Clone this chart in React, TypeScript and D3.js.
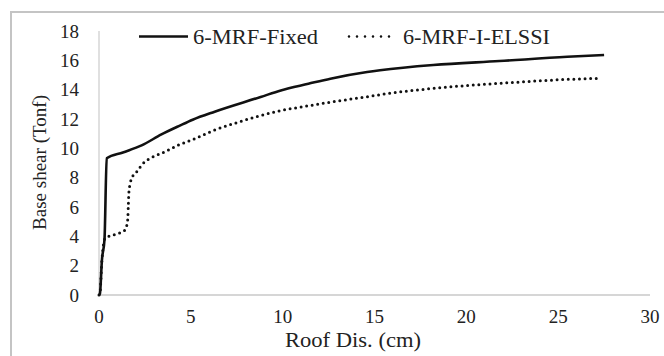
import React, { useEffect, useRef } from "react";
import * as d3 from "d3";

// Roof displacement (cm) vs base shear (Tonf)
const fixedX = [0, 0.05, 0.16, 0.3, 0.42, 1.3, 2.32, 3.4, 4.4, 5.1, 6.3, 8.8, 9.9, 11.4, 12.6, 14.6, 15.3, 18.2, 21.8, 25.5, 27.5];
const fixedY = [0, 0.1, 2.4, 3.8, 9.32, 9.72, 10.2, 10.95, 11.55, 11.95, 12.5, 13.5, 13.95, 14.4, 14.75, 15.2, 15.32, 15.68, 15.95, 16.24, 16.36];

const ssiX = [0, 0.05, 0.16, 0.33, 0.8, 1.42, 1.56, 1.6, 1.63, 1.78, 2.05, 2.41, 2.96, 3.6, 4.32, 5.13, 6.2, 7.5, 9.8, 11.4, 12.6, 14.6, 15.3, 18.2, 21.8, 25.5, 27.15];
const ssiY = [0, 0.1, 2.4, 3.86, 4.1, 4.43, 5.1, 6.2, 7.04, 7.95, 8.4, 8.98, 9.43, 9.77, 10.22, 10.61, 11.2, 11.75, 12.55, 12.9, 13.15, 13.52, 13.66, 14.09, 14.43, 14.7, 14.77];

const xTicks = [0, 5, 10, 15, 20, 25, 30];
const yTicks = [0, 2, 4, 6, 8, 10, 12, 14, 16, 18];
const seriesNames = ["6-MRF-Fixed", "6-MRF-I-ELSSI"];

const W = 664;
const H = 356;
const font = "'Liberation Serif', Tinos, 'Times New Roman', Times, 'DejaVu Serif', serif";

export default function App() {
  const svgRef = useRef<SVGSVGElement>(null);

  useEffect(() => {
    const svg = d3.select(svgRef.current);
    svg.selectAll("*").remove();

    const x = d3.scaleLinear().domain([0, 30]).range([99, 650]);
    const y = d3.scaleLinear().domain([0, 18]).range([295, 31]);

    // outer frame
    svg
      .append("rect")
      .attr("x", 11)
      .attr("y", 12)
      .attr("width", W + 20)
      .attr("height", H + 20)
      .attr("fill", "none")
      .attr("stroke", "#c4c4c4")
      .attr("stroke-width", 2);

    // axes lines (no ticks)
    svg
      .append("line")
      .attr("x1", x(0))
      .attr("x2", x(30))
      .attr("y1", y(0))
      .attr("y2", y(0))
      .attr("stroke", "#d6d6d6")
      .attr("stroke-width", 2);
    svg
      .append("line")
      .attr("x1", x(0))
      .attr("x2", x(0))
      .attr("y1", y(0))
      .attr("y2", y(18))
      .attr("stroke", "#d6d6d6")
      .attr("stroke-width", 1.5);

    const txt = (sel: any) =>
      sel.style("font-family", font).attr("fill", "#222");

    // tick labels
    svg
      .append("g")
      .selectAll("text")
      .data(xTicks)
      .join("text")
      .attr("x", (d) => x(d))
      .attr("y", 323)
      .attr("text-anchor", "middle")
      .attr("font-size", 19)
      .call(txt)
      .text((d) => d);

    svg
      .append("g")
      .selectAll("text")
      .data(yTicks)
      .join("text")
      .attr("x", 79)
      .attr("y", (d) => y(d) + 6.5)
      .attr("text-anchor", "end")
      .attr("font-size", 19)
      .call(txt)
      .text((d) => d);

    // axis titles
    svg
      .append("text")
      .attr("x", 353)
      .attr("y", 347)
      .attr("text-anchor", "middle")
      .attr("font-size", 20)
      .attr("textLength", 136)
      .attr("lengthAdjust", "spacingAndGlyphs")
      .call(txt)
      .text("Roof Dis. (cm)");

    svg
      .append("text")
      .attr("transform", "translate(45.5,162.5) rotate(-90)")
      .attr("text-anchor", "middle")
      .attr("font-size", 19)
      .attr("textLength", 135)
      .attr("lengthAdjust", "spacingAndGlyphs")
      .call(txt)
      .text("Base shear (Tonf)");

    // curves
    const line = d3
      .line<[number, number]>()
      .x((d) => x(d[0]))
      .y((d) => y(d[1]))
      .curve(d3.curveMonotoneX);

    const fixedData = fixedX.map((v, i) => [v, fixedY[i]] as [number, number]);
    const ssiData = ssiX.map((v, i) => [v, ssiY[i]] as [number, number]);

    svg
      .append("path")
      .attr("d", line(ssiData))
      .attr("fill", "none")
      .attr("stroke", "#111")
      .attr("stroke-width", 3)
      .attr("stroke-linecap", "round")
      .attr("stroke-dasharray", "0 5.6");

    svg
      .append("path")
      .attr("d", line(fixedData))
      .attr("fill", "none")
      .attr("stroke", "#111")
      .attr("stroke-width", 2.6)
      .attr("stroke-linejoin", "round");

    // legend
    const leg = svg.append("g");
    leg
      .append("line")
      .attr("x1", 139)
      .attr("x2", 188)
      .attr("y1", 36.5)
      .attr("y2", 36.5)
      .attr("stroke", "#111")
      .attr("stroke-width", 2.6);
    leg
      .append("text")
      .attr("x", 193)
      .attr("y", 43.5)
      .attr("font-size", 20)
      .attr("textLength", 125)
      .attr("lengthAdjust", "spacingAndGlyphs")
      .call(txt)
      .text(seriesNames[0]);
    leg
      .append("line")
      .attr("x1", 349)
      .attr("x2", 397)
      .attr("y1", 36.5)
      .attr("y2", 36.5)
      .attr("stroke", "#111")
      .attr("stroke-width", 2.6)
      .attr("stroke-linecap", "round")
      .attr("stroke-dasharray", "0 8");
    leg
      .append("text")
      .attr("x", 403)
      .attr("y", 43.5)
      .attr("font-size", 20)
      .attr("textLength", 147)
      .attr("lengthAdjust", "spacingAndGlyphs")
      .call(txt)
      .text(seriesNames[1]);
  }, []);

  return (
    <svg
      ref={svgRef}
      width={W}
      height={H}
      style={{ position: "absolute", left: 0, top: 0, background: "#fff" }}
    />
  );
}
